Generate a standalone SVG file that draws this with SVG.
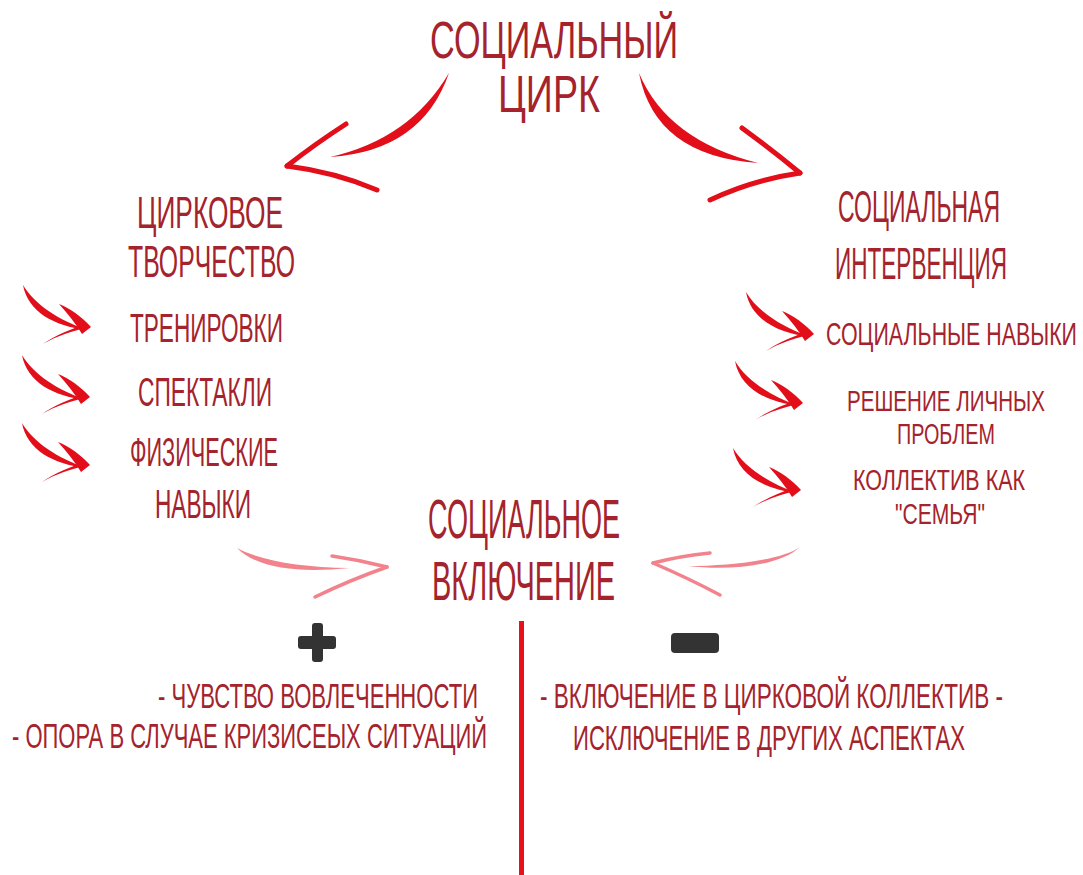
<svg xmlns="http://www.w3.org/2000/svg" width="1083" height="875" viewBox="0 0 1083 875">
<style>
  .t{font-family:"Liberation Sans Narrow","Liberation Sans",sans-serif;fill:#a4232c}
  .red{fill:#e20e1a}
  .redS{fill:none;stroke:#e20e1a;stroke-linecap:round;stroke-linejoin:round}
  .pink{fill:#f2838c}
  .pinkS{fill:none;stroke:#f2838c;stroke-linecap:round;stroke-linejoin:round}
  .sign{fill:#333333}
</style>
<defs>
  <g id="small-arrow">
    <path class="red" d="M0,0 C5,27 31,41 64,45 C36,35 12,20 0,0 Z"/>
    <path class="red" d="M36,19 C47,23 59,32 68,42 L59,49 C53,39 45,29 36,19 Z"/>
    <path class="red" d="M66,42 C50,46 33,51 20,59 C33,50 48,44 63,39 Z"/>
  </g>
</defs>
<rect width="1083" height="875" fill="#ffffff"/>

<g id="connectors">
  <path class="red" d="M449,73 Q422,151 330,157 Q410,139 449,73 Z"/>
  <path class="redS" stroke-width="5" d="M346,124 Q315,144 287,166"/>
  <path class="redS" stroke-width="5" d="M287,166 Q335,172 377,190"/>
  <path class="red" d="M639,73 Q655,156 758,163 Q667,140 639,73 Z"/>
  <path class="redS" stroke-width="5" d="M742,128 Q772,150 800,173"/>
  <path class="redS" stroke-width="5" d="M800,173 Q752,180 710,200"/>
  <use href="#small-arrow" transform="translate(23,285)"/>
  <use href="#small-arrow" transform="translate(22,355)"/>
  <use href="#small-arrow" transform="translate(22,423)"/>
  <use href="#small-arrow" transform="translate(746,292)"/>
  <use href="#small-arrow" transform="translate(735,361)"/>
  <use href="#small-arrow" transform="translate(733,448)"/>
  <path class="pink" d="M237,548 C262,561 300,567 350,568 C300,573 258,569 237,548 Z"/>
  <path class="pinkS" stroke-width="3.5" d="M332,556 Q360,560 387,567"/>
  <path class="pinkS" stroke-width="3.5" d="M387,567 Q350,580 315,597"/>
  <path class="pink" d="M800,547 C780,566 730,571 688,566 C730,566 782,560 800,547 Z"/>
  <path class="pinkS" stroke-width="3.5" d="M710,553 Q680,556 653,563"/>
  <path class="pinkS" stroke-width="3.5" d="M653,563 Q688,578 720,595"/>
  <rect x="519" y="621" width="5" height="254" fill="#e8101a"/>
</g>

<g id="node-title">
  <text class="t" transform="translate(430,58) scale(1,1.5)" font-size="34" textLength="248" lengthAdjust="spacingAndGlyphs">СОЦИАЛЬНЫЙ</text>
  <text class="t" transform="translate(498,112) scale(1,1.5)" font-size="34" textLength="102" lengthAdjust="spacingAndGlyphs">ЦИРК</text>
</g>

<g id="node-circus-creativity">
  <text class="t" transform="translate(137,228) scale(1,1.5)" font-size="30" textLength="146" lengthAdjust="spacingAndGlyphs">ЦИРКОВОЕ</text>
  <text class="t" transform="translate(128,277) scale(1,1.5)" font-size="30" textLength="167" lengthAdjust="spacingAndGlyphs">ТВОРЧЕСТВО</text>
</g>
<g id="node-training">
  <text class="t" transform="translate(130,342) scale(1,1.5)" font-size="26.5" textLength="153" lengthAdjust="spacingAndGlyphs">ТРЕНИРОВКИ</text>
</g>
<g id="node-performances">
  <text class="t" transform="translate(138,406) scale(1,1.5)" font-size="26.5" textLength="134" lengthAdjust="spacingAndGlyphs">СПЕКТАКЛИ</text>
</g>
<g id="node-physical-skills">
  <text class="t" transform="translate(130,466) scale(1,1.5)" font-size="26.5" textLength="148" lengthAdjust="spacingAndGlyphs">ФИЗИЧЕСКИЕ</text>
  <text class="t" transform="translate(155,518) scale(1,1.5)" font-size="26.5" textLength="96" lengthAdjust="spacingAndGlyphs">НАВЫКИ</text>
</g>

<g id="node-social-intervention">
  <text class="t" transform="translate(838,222) scale(1,1.5)" font-size="30" textLength="162" lengthAdjust="spacingAndGlyphs">СОЦИАЛЬНАЯ</text>
  <text class="t" transform="translate(835,279) scale(1,1.5)" font-size="30" textLength="172" lengthAdjust="spacingAndGlyphs">ИНТЕРВЕНЦИЯ</text>
</g>
<g id="node-social-skills">
  <text class="t" transform="translate(826,345) scale(1,1.5)" font-size="20.5" textLength="251" lengthAdjust="spacingAndGlyphs">СОЦИАЛЬНЫЕ НАВЫКИ</text>
</g>
<g id="node-personal-problems">
  <text class="t" transform="translate(847,411) scale(1,1.5)" font-size="20" textLength="198" lengthAdjust="spacingAndGlyphs">РЕШЕНИЕ ЛИЧНЫХ</text>
  <text class="t" transform="translate(897,444) scale(1,1.5)" font-size="20" textLength="98" lengthAdjust="spacingAndGlyphs">ПРОБЛЕМ</text>
</g>
<g id="node-family">
  <text class="t" transform="translate(853,490) scale(1,1.5)" font-size="20" textLength="172" lengthAdjust="spacingAndGlyphs">КОЛЛЕКТИВ КАК</text>
  <text class="t" transform="translate(895,524) scale(1,1.5)" font-size="20" textLength="90" lengthAdjust="spacingAndGlyphs">"СЕМЬЯ"</text>
</g>

<g id="node-social-inclusion">
  <text class="t" transform="translate(428,538) scale(1,1.5)" font-size="36.5" textLength="192" lengthAdjust="spacingAndGlyphs">СОЦИАЛЬНОЕ</text>
  <text class="t" transform="translate(432,600) scale(1,1.5)" font-size="36.5" textLength="183" lengthAdjust="spacingAndGlyphs">ВКЛЮЧЕНИЕ</text>
</g>

<g id="node-plus">
  <rect class="sign" x="298" y="636" width="38" height="13" rx="3"/>
  <rect class="sign" x="312" y="623" width="11" height="39" rx="3"/>
  <text class="t" transform="translate(158,708) scale(1,1.5)" font-size="23" textLength="320" lengthAdjust="spacingAndGlyphs">- ЧУВСТВО ВОВЛЕЧЕННОСТИ</text>
  <text class="t" transform="translate(12,748) scale(1,1.5)" font-size="23" textLength="475" lengthAdjust="spacingAndGlyphs">- ОПОРА В СЛУЧАЕ КРИЗИСЕЫХ СИТУАЦИЙ</text>
</g>

<g id="node-minus">
  <rect class="sign" x="671" y="633" width="48" height="20" rx="4"/>
  <text class="t" transform="translate(540,708) scale(1,1.5)" font-size="23" textLength="463" lengthAdjust="spacingAndGlyphs">- ВКЛЮЧЕНИЕ В ЦИРКОВОЙ КОЛЛЕКТИВ -</text>
  <text class="t" transform="translate(573,750) scale(1,1.5)" font-size="23" textLength="392" lengthAdjust="spacingAndGlyphs">ИСКЛЮЧЕНИЕ В ДРУГИХ АСПЕКТАХ</text>
</g>
</svg>
